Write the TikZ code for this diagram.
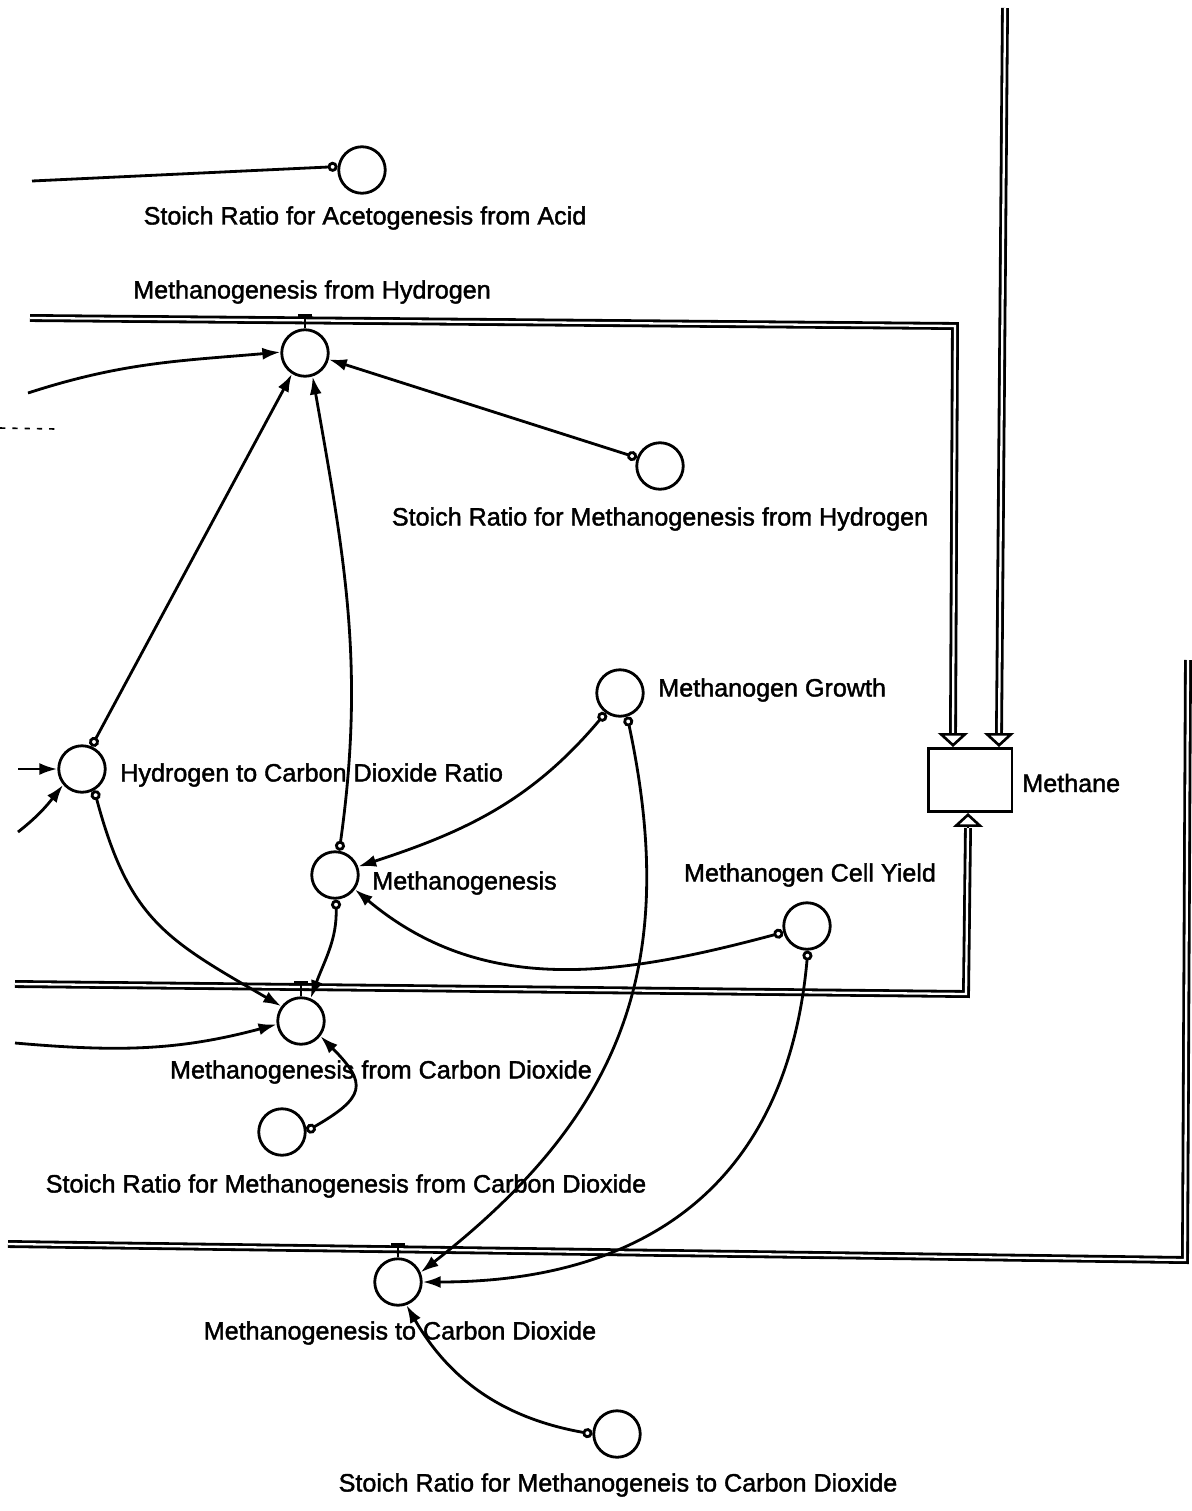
\documentclass[tikz,border=0pt]{standalone}
\usepackage{fontspec}
\setmainfont{Liberation Sans}
\newfontfamily\diagfont{Liberation Sans}[FakeBold=1.6]
\usetikzlibrary{arrows.meta}

\begin{document}
\begin{tikzpicture}[x=0.02cm, y=0.02cm,
        font=\diagfont\fontsize{14.3}{17}\selectfont,
        % converters and the stock
        conv/.style   = {circle, draw, line width=1.6pt, minimum size=0.93cm, inner sep=0pt},
        stock/.style  = {rectangle, draw, line width=1.7pt, minimum width=1.68cm, minimum height=1.26cm},
        lbl/.style    = {inner sep=0pt},
        % connectors
        link/.style   = {line width=1.6pt, {Circle[open, length=2mm, width=2mm]}-{Latex[length=3.6mm, width=2.4mm]}},
        feed/.style   = {line width=1.6pt, -{Latex[length=3.6mm, width=2.4mm]}},
        % flows
        pipe/.style   = {double, double distance=1.3pt, line width=1.6pt},
        inflow/.style = {line width=1.5pt, -{Triangle[open, length=2.8mm, width=6mm]}},
        valve/.style  = {line width=1.5pt}
    ]
    \useasboundingbox (0,0) rectangle (1192,-1511);

    % --- Converters ---
    \node[conv] (sr_acid)  at (362,-170)  {};
    \node[conv] (mfh)      at (305,-353)  {};
    \node[conv] (sr_mfh)   at (660,-466)  {};
    \node[conv] (h2_co2)   at (82,-769)   {};
    \node[conv] (meth)     at (335,-875)  {};
    \node[conv] (m_growth) at (620,-693)  {};
    \node[conv] (m_yield)  at (807,-926)  {};
    \node[conv] (mfcd)     at (301,-1021) {};
    \node[conv] (sr_mfcd)  at (282,-1132) {};
    \node[conv] (mtcd)     at (398,-1282) {};
    \node[conv] (sr_mtcd)  at (617,-1434) {};
    \node[stock] (methane) at (970,-780)  {};

    % --- Labels ---
    \node[lbl] (lbl_acid)     at (365,-218)  {Stoich Ratio for Acetogenesis from Acid};
    \node[lbl] (lbl_mfh)      at (312,-292)  {Methanogenesis from Hydrogen};
    \node[lbl] (lbl_sr_mfh)   at (660,-519)  {Stoich Ratio for Methanogenesis from Hydrogen};
    \node[lbl, anchor=west] (lbl_h2_co2) at (120,-775) {Hydrogen to Carbon Dioxide Ratio};
    \node[lbl, anchor=west] (lbl_meth)   at (372,-883) {Methanogenesis};
    \node[lbl, anchor=west] (lbl_growth) at (658,-690) {Methanogen Growth};
    \node[lbl] (lbl_yield)    at (810,-875)  {Methanogen Cell Yield};
    \node[lbl] (lbl_mfcd)     at (381,-1072) {Methanogenesis from Carbon Dioxide};
    \node[lbl] (lbl_sr_mfcd)  at (346,-1186) {Stoich Ratio for Methanogenesis from Carbon Dioxide};
    \node[lbl] (lbl_mtcd)     at (400,-1333) {Methanogenesis to Carbon Dioxide};
    \node[lbl] (lbl_sr_mtcd)  at (618,-1485) {Stoich Ratio for Methanogeneis to Carbon Dioxide};
    \node[lbl, anchor=west] (lbl_methane) at (1022,-783) {Methane};

    % --- Free ends ---
    \coordinate (acid_end) at (32,-181);
    \coordinate (mfh_src)  at (28,-393);
    \coordinate (h2_src1)  at (18,-769);
    \coordinate (h2_src2)  at (18,-832);
    \coordinate (mfcd_src) at (15,-1043);
    \coordinate (in_top1)  at (953,-734);
    \coordinate (in_top2)  at (999,-734);
    \coordinate (in_bot)   at (968,-828);

    % --- Flows ---
    \draw[pipe] (30,-318) -- (955,-326) -- (in_top1);
    \draw[pipe] (1005,-8) -- (in_top2);
    \draw[pipe] (15,-984) -- (966,-994) -- (in_bot);
    \draw[pipe] (8,-1244) -- (1185,-1260) -- (1188,-660);
    \draw[inflow] (in_top1) -- (in_top1 |- methane.north);
    \draw[inflow] (in_top2) -- (in_top2 |- methane.north);
    \draw[inflow] (in_bot) -- (in_bot |- methane.south);

    % valves
    \draw[valve] (mfh.north) -- ++(0,13) ++(-7,0) -- ++(14,0);
    \draw[valve] (mfcd.north) -- ++(0,14) ++(-7,0) -- ++(14,0);
    \draw[valve] (mtcd.north) -- ++(0,13) ++(-7,0) -- ++(14,0);

    % --- Connectors ---
    \draw[{Circle[open, length=2mm, width=2mm]}-, line width=1.6pt] (sr_acid.172) -- (acid_end);
    \draw[feed] (mfh_src) to[out=18, in=185] (mfh.178);
    \draw[line width=0.9pt, dash pattern=on 3pt off 4pt] (0,-428) -- (55,-429);
    \draw[link] (h2_co2.67) -- (mfh.238);
    \draw[link] (meth.80) to[out=82, in=-80] (mfh.-72);
    \draw[link] (sr_mfh.160) -- (mfh.-15);

    \draw[feed] (h2_src1) -- (h2_co2);
    \draw[feed] (h2_src2) to[out=38, in=232] (h2_co2.220);
    \draw[link] (h2_co2.-60) to[out=-75, in=150, looseness=1.2] (mfcd.143);

    \draw[link] (m_growth.234) to[out=230, in=18] (meth.20);
    \draw[link] (m_yield.195) to[out=195, in=-40] (meth.-36);
    \draw[link] (meth.-88) to[out=-88, in=70] (mfcd.67);

    \draw[feed] (mfcd_src) to[out=-5, in=195] (mfcd.188);
    \draw[link] (sr_mfcd.2) to[out=30, in=-45, looseness=1.8] (mfcd.-38);

    \draw[link] (m_growth.-73) to[out=-78, in=38, looseness=1.1] (mtcd.23);
    \draw[link] (m_yield.-88) to[out=-95, in=0, looseness=1.15] (mtcd.0);
    \draw[link] (sr_mtcd.180) to[out=170, in=-60] (mtcd.-70);
\end{tikzpicture}
\end{document}
